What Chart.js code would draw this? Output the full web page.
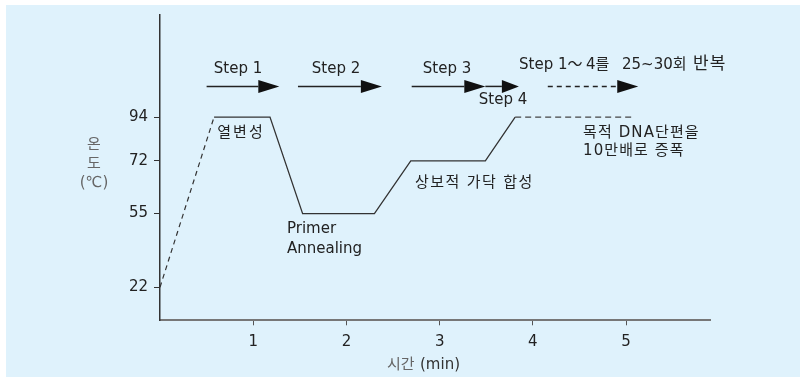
<!DOCTYPE html>
<html>
<head>
<meta charset="utf-8">
<script src="https://cdn.jsdelivr.net/npm/chart.js@4.4.0/dist/chart.umd.min.js"></script>
<style>
  html, body { margin: 0; padding: 0; background: #fff; }
</style>
</head>
<body>
<canvas id="myChart" width="803" height="377"></canvas>
<script>
// PCR temperature profile (schematic)
const profileTime = [0.58, 1.18, 1.53, 2.30, 2.69, 3.49, 3.81];
const profileTemp = [94, 94, 55, 55, 72, 72, 94];
const startTime = [0, 0.58];
const startTemp = [22, 94];
const repeatTime = [3.81, 5.06];
const repeatTemp = [94, 94];

const timeTicks = [1, 2, 3, 4, 5];
const tempTicks = [22, 55, 72, 94];

// step arrows (time from / to)
const stepFrom = [0.50, 1.48, 2.70, 3.49, 4.16];
const stepTo = [1.28, 2.38, 3.49, 3.85, 5.13];
const stepDashed = [false, false, false, false, true];
const stepLevel = 109.3;

// the temperature axis in the picture is not to scale
const tempAxisStops = [[0, 0], [22, 0.1083], [55, 0.3495], [72, 0.5223], [94, 0.6658], [145, 1]];

const FONT = "'DejaVu Sans', 'Noto Sans CJK KR', sans-serif";

const Linear = Chart.registry.getScale('linear');
class SchematicScale extends Linear {
  getPixelForValue(value) {
    const s = tempAxisStops;
    let f;
    if (value <= s[0][0]) f = s[0][1];
    else if (value >= s[s.length - 1][0]) f = s[s.length - 1][1];
    else {
      for (let i = 1; i < s.length; i++) {
        if (value <= s[i][0]) {
          const a = s[i - 1], b = s[i];
          f = a[1] + (value - a[0]) / (b[0] - a[0]) * (b[1] - a[1]);
          break;
        }
      }
    }
    return this.getPixelForDecimal(f);
  }
  getValueForPixel(pixel) {
    const s = tempAxisStops;
    const f = this.getDecimalForPixel(pixel);
    for (let i = 1; i < s.length; i++) {
      if (f <= s[i][1]) {
        const a = s[i - 1], b = s[i];
        return a[0] + (f - a[1]) / (b[1] - a[1]) * (b[0] - a[0]);
      }
    }
    return s[s.length - 1][0];
  }
}
SchematicScale.id = 'schematic';
SchematicScale.defaults = Linear.defaults;
Chart.register(SchematicScale);

const toPoints = (xs, ys) => xs.map((x, i) => ({ x: x, y: ys[i] }));

const backdrop = {
  id: 'backdrop',
  beforeDraw(chart) {
    const c = chart.ctx;
    c.save();
    c.fillStyle = '#fff';
    c.fillRect(0, 0, chart.width, chart.height);
    c.fillStyle = '#dff2fc';
    c.fillRect(6, 5, chart.width - 9, chart.height - 5);
    c.restore();
  }
};

// t, x, y, align, letter spacing, size
const notes = [
  { t: 'Step 1', x: 238, y: 69, a: 'center', s: 0 },
  { t: 'Step 2', x: 336, y: 69, a: 'center', s: 0 },
  { t: 'Step 3', x: 447, y: 69, a: 'center', s: 0 },
  { t: 'Step 4', x: 503, y: 100, a: 'center', s: 0 },
  { t: 'Step 1', x: 519, y: 65, a: 'left', s: 0 },
  { t: '～', x: 575, y: 65, a: 'center', s: 0 },
  { t: '4를', x: 586, y: 65, a: 'left', s: 0 },
  { t: '25~30회', x: 622, y: 65, a: 'left', s: 0 },
  { t: '반복', x: 693, y: 65, a: 'left', s: 1, z: 17 },
  { t: '열변성', x: 241, y: 133, a: 'center', s: 2 },
  { t: 'Primer', x: 287, y: 229, a: 'left', s: 0 },
  { t: 'Annealing', x: 287, y: 249, a: 'left', s: 0 },
  { t: '상보적 가닥 합성', x: 415, y: 183, a: 'left', s: 1.4 },
  { t: '목적 DNA단편을', x: 583, y: 133, a: 'left', s: 1.1 },
  { t: '10만배로 증폭', x: 583, y: 151, a: 'left', s: 1.1 }
];

const annotations = {
  id: 'annotations',
  afterDraw(chart) {
    const c = chart.ctx;
    const xs = chart.scales.x, ys = chart.scales.y;
    const py = ys.getPixelForValue(stepLevel);
    c.save();
    // arrows
    for (let i = 0; i < stepFrom.length; i++) {
      const x1 = xs.getPixelForValue(stepFrom[i]);
      const x2 = xs.getPixelForValue(stepTo[i]);
      const head = i == 3 ? 17 : 21;
      c.strokeStyle = '#222';
      c.lineWidth = 1.5;
      c.setLineDash(stepDashed[i] ? [5, 4] : []);
      c.beginPath();
      c.moveTo(x1, py);
      c.lineTo(x2 - head, py);
      c.stroke();
      c.setLineDash([]);
      c.fillStyle = '#111';
      c.beginPath();
      c.moveTo(x2 - head, py - 6.5);
      c.lineTo(x2, py);
      c.lineTo(x2 - head, py + 6.5);
      c.closePath();
      c.fill();
    }
    // texts
    c.fillStyle = '#222';
    c.textBaseline = 'middle';
    notes.forEach(n => {
      c.font = (n.z || 15) + 'px ' + FONT;
      c.letterSpacing = n.s + 'px';
      c.textAlign = n.a;
      c.fillText(n.t, n.x, n.y);
    });
    c.letterSpacing = '0px';
    c.font = '15px ' + FONT;
    // axis titles
    c.fillStyle = '#666';
    c.textAlign = 'center';
    c.fillText('온', 94, 145);
    c.fillText('도', 94, 164);
    c.fillText('(℃)', 94, 183);
    c.textAlign = 'left';
    c.fillText('시간', 387, 365);
    c.fillStyle = '#333';
    c.fillText('(min)', 420, 365);
    c.restore();
  }
};

const config = {
  type: 'line',
  data: {
    datasets: [
      { data: toPoints(profileTime, profileTemp), borderColor: '#333', borderWidth: 1.3 },
      { data: toPoints(startTime, startTemp), borderColor: '#333', borderWidth: 1.2, borderDash: [5, 4] },
      { data: toPoints(repeatTime, repeatTemp), borderColor: '#444', borderWidth: 1.3, borderDash: [6, 4] }
    ]
  },
  options: {
    responsive: false,
    animation: false,
    events: [],
    elements: { point: { radius: 0 }, line: { tension: 0 } },
    layout: { padding: { left: 100, top: 14, right: 93, bottom: 26 } },
    plugins: { legend: { display: false }, tooltip: { enabled: false } },
    scales: {
      x: {
        type: 'linear',
        min: 0,
        max: 5.9,
        afterBuildTicks: axis => { axis.ticks = timeTicks.map(v => ({ value: v })); },
        afterFit: axis => { axis.height = 30.7; },
        grid: { drawOnChartArea: false, tickLength: 5, color: '#555' },
        border: { display: true, color: '#777', width: 2 },
        ticks: { color: '#222', padding: 8, font: { family: FONT, size: 15 } }
      },
      y: {
        type: 'schematic',
        min: 0,
        max: 145,
        afterBuildTicks: axis => { axis.ticks = tempTicks.map(v => ({ value: v })); },
        afterFit: axis => { axis.width = 60; },
        grid: { drawOnChartArea: false, tickLength: 6, color: '#333' },
        border: { display: true, color: '#333', width: 1.5 },
        ticks: { color: '#222', padding: 6, font: { family: FONT, size: 15 } }
      }
    }
  },
  plugins: [backdrop, annotations]
};

const myChart = new Chart(document.getElementById('myChart'), config);
</script>
</body>
</html>
